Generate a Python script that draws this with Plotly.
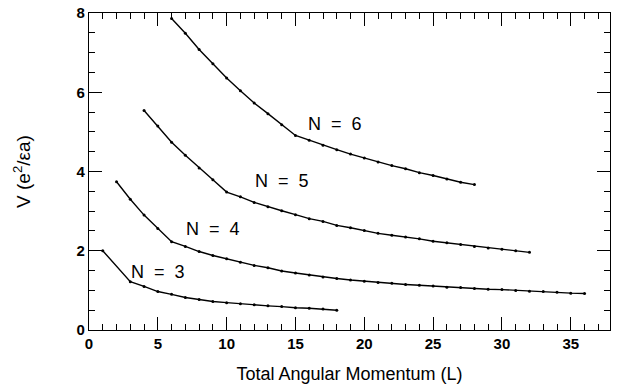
import plotly.graph_objects as go

# ---- data ----
L3 = [1, 3, 4, 5, 6, 7, 8, 9, 10, 11, 12, 13, 14, 15, 16, 17, 18]
V3 = [2.00, 1.22, 1.10, 0.97, 0.90, 0.82, 0.77, 0.72, 0.69, 0.66, 0.64, 0.61, 0.59, 0.56, 0.55, 0.53, 0.50]

L4 = list(range(2, 37))
V4 = [3.74, 3.30, 2.90, 2.56, 2.23, 2.11, 1.98, 1.88, 1.80, 1.71, 1.63, 1.57, 1.49, 1.44, 1.39,
      1.34, 1.30, 1.26, 1.23, 1.20, 1.18, 1.15, 1.13, 1.11, 1.08, 1.07, 1.05, 1.03, 1.02, 1.00,
      0.98, 0.97, 0.95, 0.93, 0.92]

L5 = list(range(4, 33))
V5 = [5.54, 5.15, 4.74, 4.41, 4.09, 3.79, 3.48, 3.36, 3.22, 3.11, 3.01, 2.91, 2.81, 2.74, 2.64,
      2.58, 2.51, 2.44, 2.39, 2.35, 2.30, 2.24, 2.20, 2.16, 2.11, 2.07, 2.04, 2.00, 1.96]

L6 = list(range(6, 29))
V6 = [7.86, 7.49, 7.08, 6.72, 6.36, 6.04, 5.73, 5.46, 5.18, 4.91, 4.79, 4.66, 4.55, 4.44, 4.34,
      4.24, 4.15, 4.07, 3.97, 3.90, 3.81, 3.73, 3.67]

series = [(L3, V3), (L4, V4), (L5, V5), (L6, V6)]

label_text = ["N\u00a0\u00a0=\u00a0\u00a03", "N\u00a0\u00a0=\u00a0\u00a04",
              "N\u00a0\u00a0=\u00a0\u00a05", "N\u00a0\u00a0=\u00a0\u00a06"]
label_x = [5.0, 9.0, 14.0, 17.9]
label_y = [1.47, 2.54, 3.75, 5.21]

x_ticks = [0, 5, 10, 15, 20, 25, 30, 35]
y_ticks = [0, 2, 4, 6, 8]

FONT = "Liberation Sans, Arial"

fig = go.Figure()
for xs, ys in series:
    fig.add_trace(go.Scatter(x=xs, y=ys, mode="lines+markers",
                             line=dict(color="black", width=1.4),
                             marker=dict(color="black", size=3),
                             showlegend=False, hoverinfo="skip"))

for t, x, y in zip(label_text, label_x, label_y):
    fig.add_annotation(x=x, y=y, text=t, showarrow=False,
                       font=dict(family=FONT, size=18, color="black"))

axis_common = dict(
    showgrid=False, zeroline=False, showline=True, linecolor="black", linewidth=1.2,
    mirror="ticks", ticks="inside", ticklen=13, tickcolor="black", tickwidth=1,
    tickfont=dict(family=FONT, size=15, color="black"), automargin=False,
)

fig.update_layout(
    width=620, height=385,
    margin=dict(l=89, r=10, t=13, b=55),
    paper_bgcolor="white", plot_bgcolor="white",
    xaxis=dict(range=[0, 37.85], tickvals=x_ticks, ticktext=[f"<b>{v}</b>" for v in x_ticks],
               minor=dict(dtick=1, ticks="inside", ticklen=6, tickcolor="black", tickwidth=1, showgrid=False),
               title=dict(text="Total Angular Momentum (L)", standoff=16,
                          font=dict(family=FONT, size=18, color="black")),
               **axis_common),
    yaxis=dict(range=[0, 8], tickvals=y_ticks, ticktext=[f"<b>{v}</b>" for v in y_ticks],
               minor=dict(dtick=0.5, ticks="inside", ticklen=6, tickcolor="black", tickwidth=1, showgrid=False),
               title=dict(text="V (e<sup>2</sup>/εa)", standoff=40,
                          font=dict(family=FONT, size=19, color="black")),
               **axis_common),
)

fig.write_html("out.html")
